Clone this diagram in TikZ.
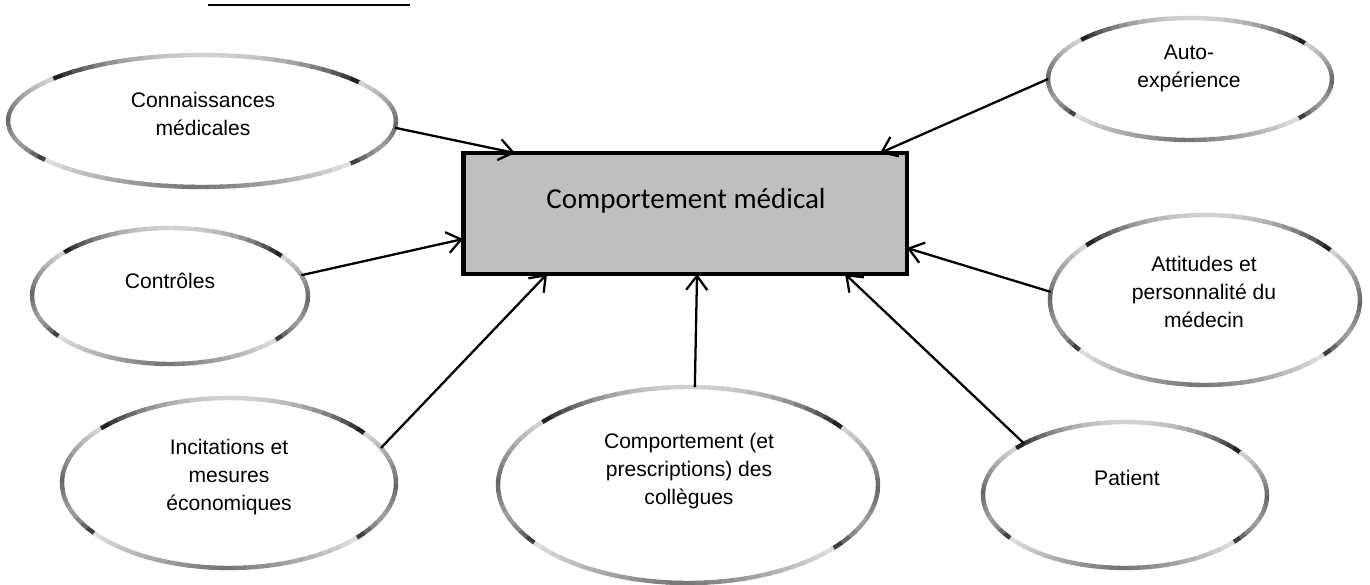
\documentclass[tikz,border=0pt]{standalone}
\usepackage{fontspec}
\setmainfont{Liberation Sans}
\newfontfamily\calibrifont{Carlito}
\usetikzlibrary{shapes.geometric,arrows.meta,calc}
\newcommand\gring[3]{%
  \foreach \a in {0,4,...,356}{%
    \pgfmathsetmacro\ph{mod(360-\a,360)}%
    \pgfmathsetmacro\ph{\ph>=270 ? \ph-360 : \ph}%
    \pgfmathsetmacro\ps{abs(90-\ph)}%
    \pgfmathsetmacro\dk{\ps<51 ? 18+72*(\ps/51)^2 : (\ps<90 ? 14+46*(\ps-51)/39 : (\ps<110 ? 60-22*(\ps-90)/20 : (\ps<129 ? 38+52*((\ps-110)/19)^2 : 12+43*(\ps-129)/51)))}%
    \draw[line width=2.5pt, draw=black!\dk] ($(#1.center)+(\a:#2 and #3)$) arc[start angle=\a, end angle=\a+4.6, x radius=#2, y radius=#3];
  }}
\newcommand\ellnode[5]{%
  \pgfmathsetmacro\ew{0.04*#4}\pgfmathsetmacro\eh{0.04*#5}%
  \node[bubble, minimum width=\ew cm, minimum height=\eh cm] (#1) at (#2,#3) {};
  \gring{#1}{#4}{#5}}
\tikzset{
  bubble/.style={ellipse, fill=white, draw=none, inner sep=0pt, outer sep=0pt},
  lbl/.style={align=center, inner sep=0pt, font=\fontsize{12}{15.9}\selectfont},
  mainbox/.style={rectangle, fill=black!25, draw=black, line width=2.8pt, inner sep=0pt, outer sep=0pt},
  maintxt/.style={inner sep=0pt, font=\calibrifont\fontsize{16.5}{20}\selectfont},
  conn/.style={line width=1.3pt, -{Straight Barb[length=8pt, width=12pt]}},
}
\begin{document}
\begin{tikzpicture}[x=0.02cm, y=-0.02cm]
\useasboundingbox (0,0) rectangle (1370,585);
% title underline (title text cut off at top)
\draw[line width=1.5pt] (208,5) -- (410,5);
% central box
\node[mainbox, minimum width=8.88cm, minimum height=2.42cm] (cm) at (685,213.5) {};
\node[maintxt, anchor=base] (cmT) at (686,208) {Comportement médical};
% ellipses
\ellnode{con}{202}{121}{194}{66}
\ellnode{ctl}{170}{296}{138}{68}
\ellnode{inc}{229}{483}{167}{85}
\ellnode{col}{688}{485}{190}{98}
\ellnode{pat}{1125}{495}{142}{73}
\ellnode{att}{1205}{300}{155}{85}
\ellnode{aut}{1190}{79}{142}{61}
% labels
\node[lbl] (conT) at (203,114) {Connaissances\\médicales};
\node[lbl] (ctlT) at (170,281) {Contrôles};
\node[lbl] (incT) at (229,477) {Incitations et\\mesures\\économiques};
\node[lbl] (colT) at (689,471) {Comportement (et\\prescriptions) des\\collègues};
\node[lbl] (patT) at (1127,478) {Patient};
\node[lbl] (attT) at (1204,292) {Attitudes et\\personnalité du\\médecin};
\node[lbl] (autT) at (1189,68) {Auto-\\expérience};
% connectors
\draw[conn] (con.-2) -- ($(cm.north west)+(52,0)$);
\draw[conn] (ctl.9) -- ($(cm.north west)+(0,86)$);
\draw[conn] (inc.13) -- ($(cm.south west)+(84,0)$);
\draw[conn] (col.86) -- ($(cm.south west)+(234,0)$);
\draw[conn] (pat.153) -- ($(cm.south west)+(382,0)$);
\draw[conn] (att.177) -- ($(cm.north east)+(0,95)$);
\draw[conn] (aut.180) -- ($(cm.north west)+(417,0)$);
\end{tikzpicture}
\end{document}
